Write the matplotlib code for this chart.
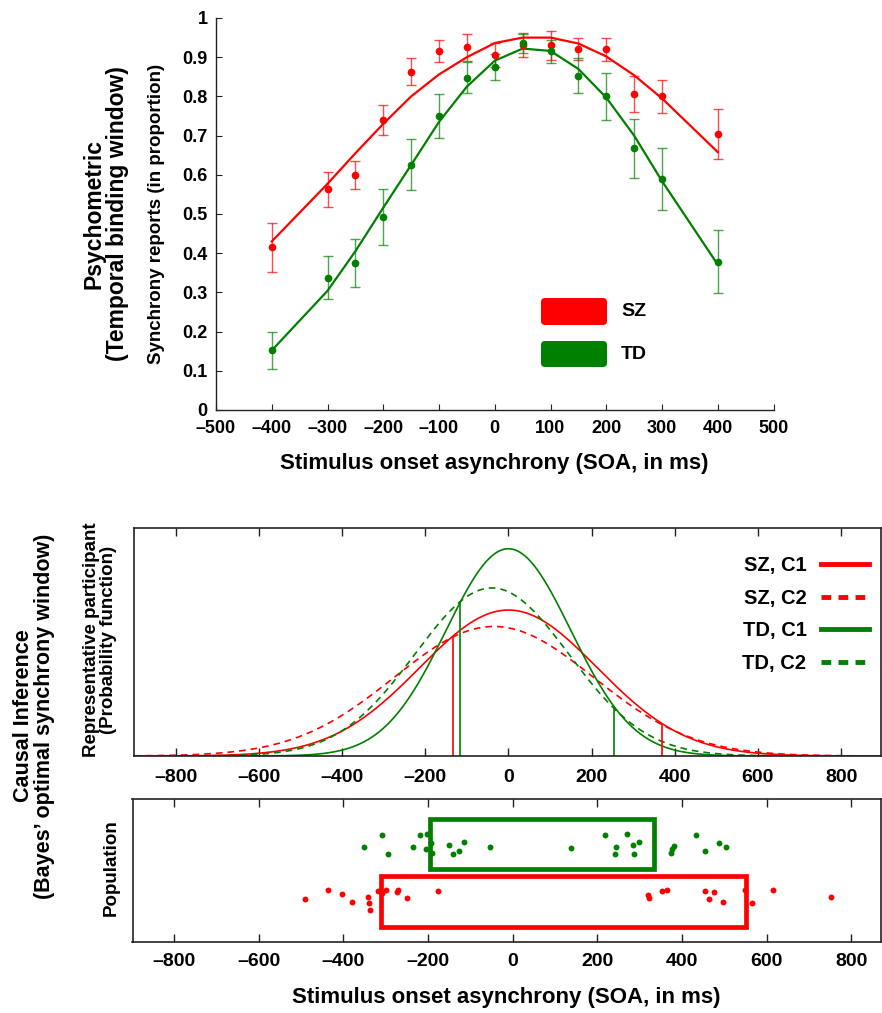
import numpy as np
import matplotlib
matplotlib.use("Agg")
import matplotlib.pyplot as plt
from matplotlib.patches import FancyBboxPatch, Rectangle
from matplotlib.ticker import FuncFormatter
from matplotlib.lines import Line2D

plt.rcParams['font.family'] = ['Liberation Sans', 'DejaVu Sans']
plt.rcParams['font.weight'] = 'bold'
plt.rcParams['axes.unicode_minus'] = False

RED = '#ff0000'
GREEN = '#008000'

# ---------------- Psychometric data ----------------
soa = [-400, -300, -250, -200, -150, -100, -50, 0, 50, 100, 150, 200, 250, 300, 400]
sz_mean = [0.415, 0.563, 0.599, 0.740, 0.863, 0.916, 0.925, 0.906, 0.932, 0.930, 0.921, 0.920, 0.807, 0.800, 0.704]
sz_err = [0.063, 0.045, 0.036, 0.039, 0.035, 0.028, 0.034, 0.031, 0.031, 0.036, 0.028, 0.030, 0.046, 0.043, 0.063]
sz_fit = [0.430, 0.577, 0.655, 0.730, 0.800, 0.856, 0.900, 0.936, 0.950, 0.950, 0.935, 0.902, 0.854, 0.795, 0.658]
td_mean = [0.152, 0.338, 0.374, 0.492, 0.626, 0.750, 0.848, 0.875, 0.935, 0.915, 0.853, 0.800, 0.668, 0.590, 0.378]
td_err = [0.047, 0.056, 0.061, 0.072, 0.065, 0.056, 0.040, 0.033, 0.024, 0.029, 0.044, 0.059, 0.075, 0.079, 0.080]
td_fit = [0.152, 0.304, 0.405, 0.516, 0.625, 0.735, 0.825, 0.891, 0.922, 0.916, 0.870, 0.797, 0.700, 0.584, 0.371]
top_xticks = [-500, -400, -300, -200, -100, 0, 100, 200, 300, 400, 500]
top_yticks = [0, 0.1, 0.2, 0.3, 0.4, 0.5, 0.6, 0.7, 0.8, 0.9, 1]
top_ytick_labels = ['0', '0.1', '0.2', '0.3', '0.4', '0.5', '0.6', '0.7', '0.8', '0.9', '1']

# ---------------- Representative participant (Gaussian components) ----------------
comp_labels = ['SZ, C1', 'SZ, C2', 'TD, C1', 'TD, C2']
comp_means = [0, -35, 0, -40]
comp_sigmas = [213, 240, 150, 185]
# decision boundaries (where vertical lines are drawn)
sz_bounds = [-133, 370]
td_bounds = [-116, 254]

# ---------------- Population ----------------
td_pop_x = [-307.6, -351, -293.4, -218.8, -235.4, -201.4, -205.4, -193.6, -190.5, -150.4,
            -140.9, -125.8, -115.7, -54.3, 138.6, 218.8, 243.2, 241.5, 270.8, 283.3,
            287.3, 297.4, 373.7, 377, 381.7, 433.7, 453.3, 486.3, 502.8]
td_pop_y = [0.737, 0.654, 0.599, 0.737, 0.654, 0.746, 0.636, 0.679, 0.611, 0.664,
            0.599, 0.621, 0.686, 0.654, 0.643, 0.737, 0.654, 0.599, 0.749, 0.664,
            0.599, 0.686, 0.606, 0.636, 0.658, 0.737, 0.621, 0.681, 0.654]
sz_pop_x = [-491, -436, -403.7, -378.4, -342.3, -339.2, -336.9, -318, -309.3, -299.8,
            -269.8, -272.2, -250.2, -175.4, 319.4, 321.8, 351.7, 363.5, 454.9, 475.2,
            462.7, 496.5, 549.3, 565.9, 615.4, 751.4]
sz_pop_y = [0.275, 0.338, 0.309, 0.254, 0.292, 0.243, 0.193, 0.333, 0.317, 0.338,
            0.341, 0.324, 0.285, 0.331, 0.302, 0.285, 0.331, 0.338, 0.333, 0.324,
            0.275, 0.254, 0.342, 0.243, 0.338, 0.292]
td_box = [-196, 334]
sz_box = [-312, 550]
td_box_y = [0.495, 0.855]
sz_box_y = [0.075, 0.442]
bottom_xticks = [-800, -600, -400, -200, 0, 200, 400, 600, 800]

W, H = 882, 1013
fig = plt.figure(figsize=(W / 100, H / 100), dpi=100)


def px_axes(left, top, right, bottom):
    return fig.add_axes([left / W, 1 - bottom / H, (right - left) / W, (bottom - top) / H])


dash_fmt = FuncFormatter(lambda v, p: ('–' if v < 0 else '') + '%d' % abs(v))
SPINE = '#222222'

# ======== Top: psychometric ========
ax1 = px_axes(216, 18, 773.5, 410)
ax1.plot(soa, sz_fit, color=RED, lw=1.6, zorder=3)
ax1.plot(soa, td_fit, color=GREEN, lw=1.6, zorder=3)
ax1.errorbar(soa, sz_mean, yerr=sz_err, fmt='none', ecolor=RED, elinewidth=1.0,
             capsize=3.5, capthick=1.0, alpha=0.7, zorder=2)
ax1.errorbar(soa, td_mean, yerr=td_err, fmt='none', ecolor=GREEN, elinewidth=1.0,
             capsize=3.5, capthick=1.0, alpha=0.7, zorder=2)
ax1.plot(soa, sz_mean, 'o', color=RED, ms=4.5, zorder=4)
ax1.plot(soa, td_mean, 'o', color=GREEN, ms=4.5, zorder=4)
ax1.set_xlim(-500, 500)
ax1.set_ylim(0, 1)
ax1.set_xticks(top_xticks)
ax1.xaxis.set_major_formatter(dash_fmt)
ax1.set_yticks(top_yticks)
ax1.set_yticklabels(top_ytick_labels)
for s in ['top', 'right']:
    ax1.spines[s].set_visible(False)
for s in ['left', 'bottom']:
    ax1.spines[s].set_color(SPINE)
    ax1.spines[s].set_linewidth(1.0)
ax1.tick_params(direction='in', length=4, width=0.8, labelsize=13, colors=SPINE,
                labelcolor='black')
ax1.tick_params(axis='x', pad=7)
ax1.tick_params(axis='y', pad=6)
ax1.set_xlabel('Stimulus onset asynchrony (SOA, in ms)', fontsize=16, fontweight='bold',
               labelpad=12)
ax1.set_ylabel('Synchrony reports (in proportion)', fontsize=13.5, fontweight='bold')
ax1.yaxis.set_label_coords((165 - 216) / 557.5, 0.5)

# legend (rounded swatches)
for (y0, y1, col, lab) in [(298, 325, RED, 'SZ'), (341, 367, GREEN, 'TD')]:
    r = 4.0
    patch = FancyBboxPatch((541 / W, 1 - y1 / H), 66 / W, (y1 - y0) / H,
                           boxstyle='round,pad=0,rounding_size=%f' % (r / W),
                           mutation_aspect=W / H, transform=fig.transFigure,
                           facecolor=col, edgecolor='none')
    fig.add_artist(patch)
    fig.text(621 / W, 1 - (y0 + y1) / 2 / H, lab, fontsize=14, fontweight='bold',
             ha='left', va='center')

fig.text(106 / W, 1 - 214 / H, 'Psychometric\n(Temporal binding window)', rotation=90,
         fontsize=16.5, fontweight='bold', ha='center', va='center', multialignment='center',
         linespacing=1.05)

# ======== Middle: representative participant ========
ax2 = px_axes(133.8, 528, 881, 756)
xs = np.linspace(-900, 900, 901)


def npdf(x, m, s):
    return np.exp(-0.5 * ((np.asarray(x) - m) / s) ** 2) / (s * np.sqrt(2 * np.pi))


styles = [(RED, '-'), (RED, (0, (4, 3))), (GREEN, '-'), (GREEN, (0, (4, 3)))]
for lab, m, s, (c, ls) in zip(comp_labels, comp_means, comp_sigmas, styles):
    ax2.plot(xs, npdf(xs, m, s), color=c, ls=ls, lw=1.2)
ax2.vlines(sz_bounds, 0, npdf(sz_bounds, comp_means[0], comp_sigmas[0]), color=RED, lw=1.2)
ax2.vlines(td_bounds, 0, npdf(td_bounds, comp_means[2], comp_sigmas[2]), color=GREEN, lw=1.2)
ax2.set_xlim(-901, 896)
ax2.set_ylim(0, npdf(0, 0, comp_sigmas[2]) / 0.909)
ax2.set_yticks([])
ax2.set_xticks(bottom_xticks)
ax2.xaxis.set_major_formatter(dash_fmt)
ax2.tick_params(axis='x', direction='in', length=6, width=1.0, top=True, labelsize=14,
                pad=9, colors=SPINE, labelcolor='black')
for s in ax2.spines.values():
    s.set_color(SPINE)
    s.set_linewidth(1.2)
handles = [Line2D([], [], color=c, ls=('-' if ls == '-' else (0, (2, 1.5))), lw=3.5)
           for (c, ls) in styles]
ax2.legend(handles, comp_labels, loc='upper right', frameon=False, markerfirst=False,
           prop={'weight': 'bold', 'size': 14.5}, handlelength=2.4,
           handletextpad=0.7, labelspacing=0.68, borderaxespad=0.2,
           bbox_to_anchor=(1.0, 0.93))

fig.text(100 / W, 1 - 640 / H, 'Representative participant\n(Probability function)',
         rotation=90, fontsize=13.5, fontweight='bold', ha='center', va='center',
         multialignment='center', linespacing=1.05)
fig.text(34 / W, 1 - 716 / H, "Causal Inference\n(Bayes’ optimal synchrony window)",
         rotation=90, fontsize=15.5, fontweight='bold', ha='center', va='center',
         multialignment='center', linespacing=1.05)

# ======== Bottom: population ========
ax3 = px_axes(132.5, 799, 881, 942)
ax3.scatter(td_pop_x, td_pop_y, s=18, color=GREEN, zorder=3, linewidths=0)
ax3.scatter(sz_pop_x, sz_pop_y, s=18, color=RED, zorder=3, linewidths=0)
ax3.add_patch(Rectangle((td_box[0], td_box_y[0]), td_box[1] - td_box[0],
                        td_box_y[1] - td_box_y[0], fill=False, edgecolor=GREEN, lw=3.4,
                        zorder=2))
ax3.add_patch(Rectangle((sz_box[0], sz_box_y[0]), sz_box[1] - sz_box[0],
                        sz_box_y[1] - sz_box_y[0], fill=False, edgecolor=RED, lw=3.4,
                        zorder=2))
ax3.set_xlim(-898, 870)
ax3.set_ylim(-0.036, 1.0)
ax3.set_yticks([])
ax3.set_xticks(bottom_xticks)
ax3.xaxis.set_major_formatter(dash_fmt)
ax3.tick_params(axis='x', direction='in', length=6, width=1.0, top=True, labelsize=14,
                pad=8, colors=SPINE, labelcolor='black')
for s in ax3.spines.values():
    s.set_color(SPINE)
    s.set_linewidth(1.2)
ax3.set_xlabel('Stimulus onset asynchrony (SOA, in ms)', fontsize=16, fontweight='bold',
               labelpad=12)
fig.text(111 / W, 1 - 868 / H, 'Population', rotation=90, fontsize=13.5,
         fontweight='bold', ha='center', va='center')

fig.savefig('out.png', dpi=100)
